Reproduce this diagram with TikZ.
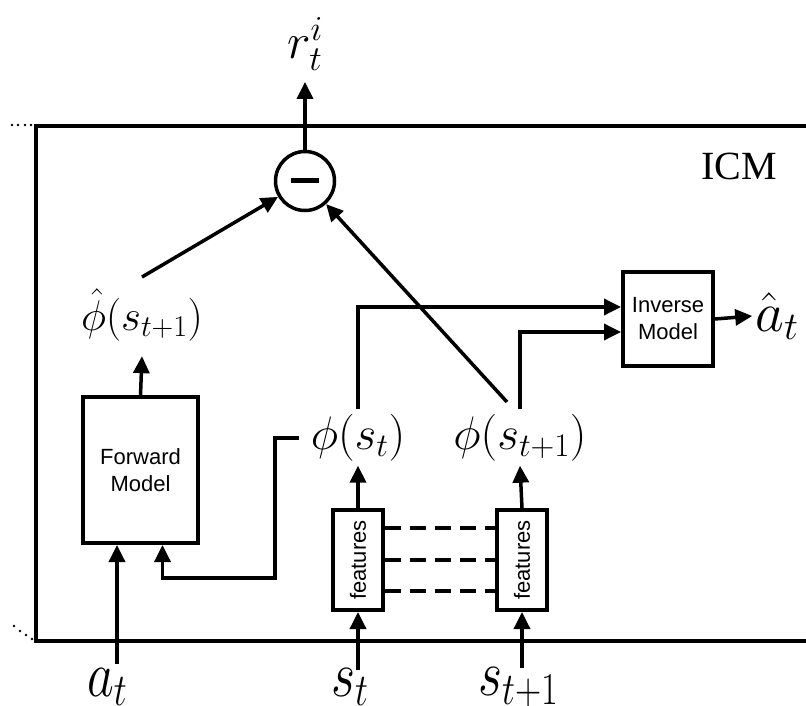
\RequirePackage{fix-cm}
\documentclass[tikz,border=0pt]{standalone}
\usepackage{fontspec}
\newfontfamily\arialfont{Liberation Sans}
\newfontfamily\titlefont{Liberation Serif}
\usetikzlibrary{arrows.meta}

\tikzset{
  wire/.style={line width=3.5pt, -{Triangle[length=17pt,width=16pt]}},
  plainwire/.style={line width=3.5pt},
  block/.style={draw, line width=4pt, inner sep=0pt, align=center,
    font=\arialfont\fontsize{22}{27}\selectfont},
  lbl/.style={inner sep=0pt},
  inlbl/.style={inner sep=0pt, anchor=base west},
  dotmark/.style={fill=black},
}
% tall input symbols along the bottom edge
\newcommand{\tallmath}[1]{\scalebox{1}[1.25]{\fontsize{52}{62}\selectfont$#1$}}

\begin{document}
\begin{tikzpicture}[x=1pt,y=-1pt]
\useasboundingbox (0,0) rectangle (806,706);

% module frame (open to the right) and its continuation dots
\draw[line width=4.5pt, line join=miter] (806,126) -- (36,126) -- (36,641) -- (806,641);
\foreach \x in {12,18,25,31} \fill[dotmark] (\x,125) circle (1.4);
\foreach \x/\y in {14/626,20/631,26/635,32/639} \fill[dotmark] (\x,\y) circle (1.4);

\node[font=\titlefont\fontsize{40}{48}\selectfont, lbl] (icm) at (739,166) {ICM};

% difference unit
\node[circle, draw, line width=3.5pt, minimum size=59pt, inner sep=0pt] (diff) at (305,181) {\rule{28pt}{5pt}};
\node[lbl] (rti) at (305,44) {\fontsize{50}{60}\selectfont$r_t^i$};

% forward model
\node[block, minimum width=115pt, minimum height=146pt] (fm) at (140.5,470) {Forward\\Model};
\node[lbl] (phihat) at (142,315) {\fontsize{43}{52}\selectfont$\hat{\phi}(s_{t+1})$};

% inverse model
\node[block, minimum width=90pt, minimum height=94pt] (inv) at (668,319) {Inverse\\Model};
\node[lbl] (ahat) at (777,316) {\fontsize{56}{66}\selectfont$\hat{a}_t$};

% feature encoders
\node[block, minimum width=50pt, minimum height=100pt] (featA) at (358,560) {\rotatebox{90}{features}};
\node[block, minimum width=50pt, minimum height=100pt] (featB) at (522,560) {\rotatebox{90}{features}};

\node[lbl] (phist) at (358,438) {\fontsize{47}{56}\selectfont$\phi(s_t)$};
\node[lbl] (phistn) at (520,438) {\fontsize{47}{56}\selectfont$\phi(s_{t+1})$};

% inputs
\node[inlbl] (at) at (87,696) {\tallmath{a_t}};
\node[inlbl] (st) at (331,696) {\tallmath{s_t}};
\node[inlbl] (stn) at (478,695) {\tallmath{s_{t+1}}};

% helper points
\coordinate (fmA) at ([xshift=-23pt]fm.south);
\coordinate (fmB) at ([xshift=22pt]fm.south);
\coordinate (bendA) at (275,578);
\coordinate (phihatout) at (142,277);
\coordinate (phistnout) at (507,402);
\coordinate (atTop) at (117,664);
\coordinate (stTop) at (358,670);
\coordinate (stnTop) at (522,668);

% shared weights between encoders
\foreach \dy in {32,0,-31}
  \draw[plainwire, dash pattern=on 16pt off 9pt] ([yshift=\dy pt]featA.east) -- ([yshift=\dy pt]featB.west);

% connectors
\draw[wire, shorten >=11pt] (diff.north) -- (rti.south);
\draw[wire] (phihatout) -- (diff);
\draw[wire] (phistnout) -- (diff);
\draw[wire] (fm.north) -- ([yshift=-15pt]phihat.south);
\draw[wire] (atTop) -- (atTop |- fm.south);
\draw[wire] ([xshift=-12pt]phist.west) -| (bendA) -| (fmB);
\draw[wire] (featA.north) -- ([yshift=-4pt]phist.south);
\draw[wire] (featB.north) -- ([yshift=-4pt]phistn.south);
\draw[wire] (stTop) -- (featA.south);
\draw[wire] (stnTop) -- (featB.south);
\draw[wire] ([yshift=5pt]phist.north) |- ([yshift=12pt]inv.west);
\draw[wire] ([yshift=5pt]phistn.north) |- ([yshift=-13pt]inv.west);
\draw[wire] (inv.east) -- ([xshift=-3pt]ahat.west);
\end{tikzpicture}
\end{document}
